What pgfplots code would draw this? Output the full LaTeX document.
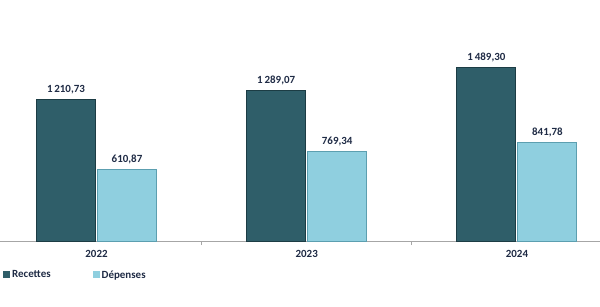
\documentclass[border=0pt]{standalone}
\usepackage{pgfplots}
\pgfplotsset{compat=1.18}
\usepackage{fontspec}
\setmainfont{Carlito}
\definecolor{rec}{HTML}{2F5E69}
\definecolor{recd}{HTML}{1C3C44}
\definecolor{dep}{HTML}{8FCFDF}
\definecolor{depd}{HTML}{5C9FB0}
\definecolor{lab}{HTML}{1F2B45}
\definecolor{axl}{HTML}{A6A6A6}
\begin{document}
\begin{tikzpicture}[x=1bp,y=1bp]
\useasboundingbox (0,0) rectangle (600,306);
\begin{axis}[
  at={(0bp,65bp)}, anchor=south west,
  scale only axis, width=600bp, height=241bp,
  xmin=-0.459, xmax=2.395, ymin=0, ymax=2067,
  axis y line=none, axis x line*=bottom,
  axis line style={axl, line width=0.8pt, -},
  xtick={0,1,2}, xticklabels={2022,2023,2024},
  minor xtick={0.5,1.5},
  major tick length=0pt, minor tick length=4bp,
  tick align=outside,
  minor tick style={axl, line width=0.8pt},
  xticklabel style={font=\bfseries\fontsize{11}{13}\selectfont, text=lab, yshift=-6bp},
  ybar=2bp, bar width=59bp,
  nodes near coords={\pgfmathprintnumber[assume math mode=true, use comma, 1000 sep={\,}, fixed, fixed zerofill, precision=2]{\pgfplotspointmeta}},
  every node near coord/.append style={font=\bfseries\fontsize{11}{13}\selectfont, text=lab, yshift=2bp},
  legend columns=2,
  legend style={at={(axis description cs:0,-0.141)}, anchor=west, draw=none, fill=none,
    font=\bfseries\fontsize{11}{13}\selectfont, text=lab,
    /tikz/every even column/.append style={column sep=40bp}},
  legend image code/.code={\draw[#1, draw=none] (0bp,-3.5bp) rectangle (7bp,3.5bp);},
]
\addplot[fill=rec, draw=recd, line width=1pt] coordinates {(0,1210.73) (1,1289.07) (2,1489.30)};
\addplot[fill=dep, draw=depd, line width=1pt] coordinates {(0,610.87) (1,769.34) (2,841.78)};
\legend{Recettes, Dépenses}
\end{axis}
\end{tikzpicture}
\end{document}
